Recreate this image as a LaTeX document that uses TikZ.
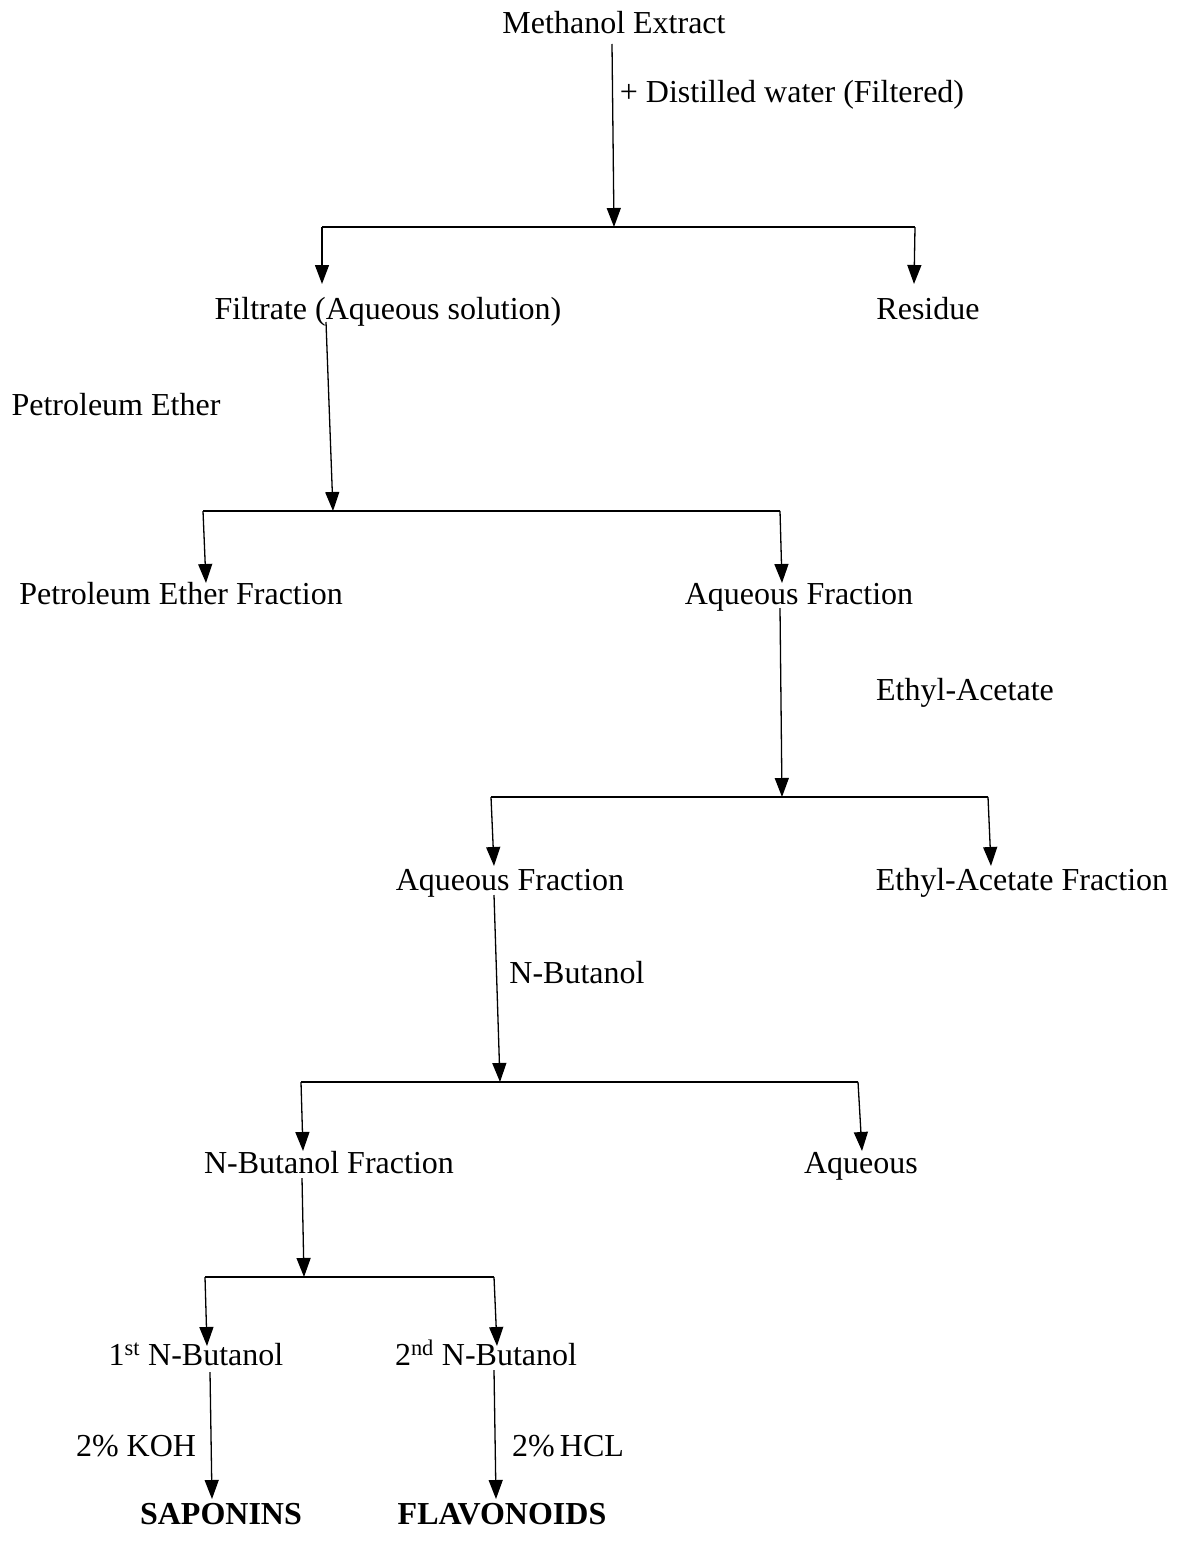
\documentclass[tikz,border=0pt]{standalone}
\usepackage{fontspec}
\setmainfont{Liberation Serif}
\usetikzlibrary{arrows.meta}
\begin{document}
\begin{tikzpicture}[x=1pt,y=-1pt,
  lbl/.style={inner sep=0pt,anchor=base,font=\fontsize{32}{38}\selectfont},
  boldlbl/.style={lbl,font=\fontsize{32}{38}\selectfont\bfseries},
  conn/.style={line width=1.3pt},
  bar/.style={line width=1.8pt},
  arr/.style={line width=1.3pt,-{Triangle[length=19pt,width=14pt]}}]
\useasboundingbox (0,0) rectangle (1176,1557);
% texts
\node[lbl] (me) at (614,34) {Methanol Extract};
\node[lbl] (dw) at (792,103) {+ Distilled water (Filtered)};
\node[lbl] (filt) at (388,319) {Filtrate (Aqueous solution)};
\node[lbl] (res) at (928,319) {Residue};
\node[lbl] (pe) at (116,415) {Petroleum Ether};
\node[lbl] (pef) at (181,604) {Petroleum Ether Fraction};
\node[lbl] (aq1) at (799,604) {Aqueous Fraction};
\node[lbl] (ea) at (965,700) {Ethyl-Acetate};
\node[lbl] (aq2) at (510,890) {Aqueous Fraction};
\node[lbl] (eaf) at (1022,890) {Ethyl-Acetate Fraction};
\node[lbl] (nb) at (577,983) {N-Butanol};
\node[lbl] (nbf) at (329,1173) {N-Butanol Fraction};
\node[lbl] (aq3) at (861,1173) {Aqueous};
\node[lbl] (nb1) at (196,1365) {1\textsuperscript{st} N-Butanol};
\node[lbl] (nb2) at (486,1365) {2\textsuperscript{nd} N-Butanol};
\node[lbl] (koh) at (136,1456) {2\% KOH};
\node[lbl] (hcl) at (568,1456) {2\%\,HCL};
\node[boldlbl] (sap) at (221,1524) {SAPONINS};
\node[boldlbl] (fla) at (502,1524) {FLAVONOIDS};
% coordinates
\coordinate (s1) at (612,44);
\coordinate (j1) at (614,227);
\coordinate (j1l) at (322,227);
\coordinate (j1r) at (915,227);
\coordinate (t1l) at (322,284);
\coordinate (t1r) at (914,284);
\coordinate (s2) at (326,322);
\coordinate (j2) at (333,511);
\coordinate (j2l) at (203,511);
\coordinate (j2r) at (780,511);
\coordinate (t2l) at (206,583);
\coordinate (t2r) at (782,583);
\coordinate (s3) at (780,608);
\coordinate (j3) at (782,797);
\coordinate (j3l) at (491,797);
\coordinate (j3r) at (988,797);
\coordinate (t3l) at (494,866);
\coordinate (t3r) at (991,866);
\coordinate (s4) at (494,895);
\coordinate (j4) at (500,1082);
\coordinate (j4l) at (301,1082);
\coordinate (j4r) at (858,1082);
\coordinate (t4l) at (303,1151);
\coordinate (t4r) at (862,1151);
\coordinate (s5) at (302,1178);
\coordinate (j5) at (304,1277);
\coordinate (j5l) at (205,1277);
\coordinate (j5r) at (494,1277);
\coordinate (t5l) at (207,1346);
\coordinate (t5r) at (497,1346);
\coordinate (s6l) at (210,1372);
\coordinate (e6l) at (212,1499);
\coordinate (s6r) at (494,1370);
\coordinate (e6r) at (496,1499);
% connectors
\draw[arr] (s1) -- (j1);
\draw[bar] (j1l) -- (j1r);
\draw[arr] (j1l) -- (t1l);
\draw[arr] (j1r) -- (t1r);
\draw[arr] (s2) -- (j2);
\draw[bar] (j2l) -- (j2r);
\draw[arr] (j2l) -- (t2l);
\draw[arr] (j2r) -- (t2r);
\draw[arr] (s3) -- (j3);
\draw[bar] (j3l) -- (j3r);
\draw[arr] (j3l) -- (t3l);
\draw[arr] (j3r) -- (t3r);
\draw[arr] (s4) -- (j4);
\draw[bar] (j4l) -- (j4r);
\draw[arr] (j4l) -- (t4l);
\draw[arr] (j4r) -- (t4r);
\draw[arr] (s5) -- (j5);
\draw[bar] (j5l) -- (j5r);
\draw[arr] (j5l) -- (t5l);
\draw[arr] (j5r) -- (t5r);
\draw[arr] (s6l) -- (e6l);
\draw[arr] (s6r) -- (e6r);
\end{tikzpicture}
\end{document}
